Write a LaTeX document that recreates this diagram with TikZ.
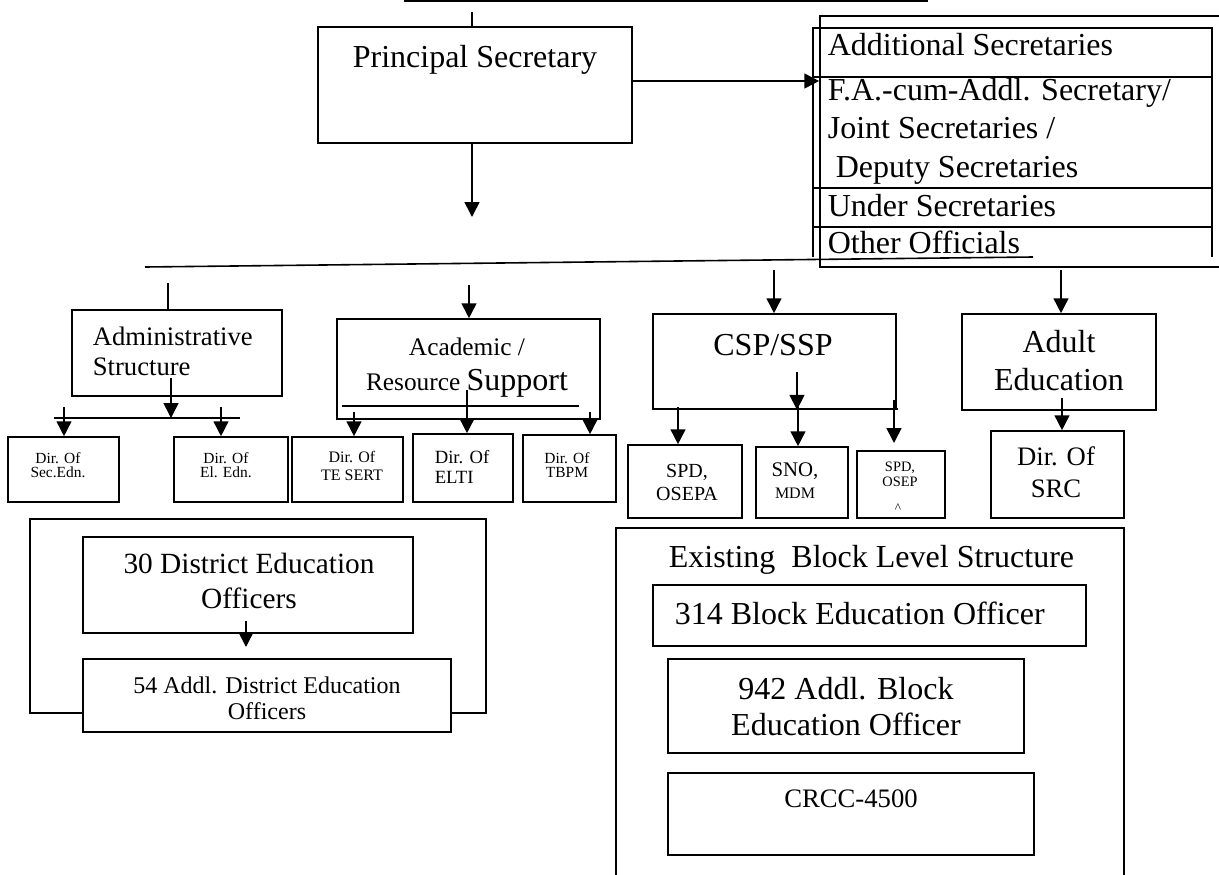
\documentclass[tikz,border=0pt]{standalone}
\usepackage{fontspec}
\setmainfont{Liberation Serif}
\usetikzlibrary{arrows.meta, fit, positioning}
\newcommand{\sz}[2]{\fontsize{#1}{#2}\selectfont}

\begin{document}
\begin{tikzpicture}[x=0.375pt, y=-0.375pt, line width=0.6pt,
    >={Triangle[length=5.6pt, width=5.6pt]},
    box/.style={draw, inner sep=0pt, fill=white},
    txt/.style={inner sep=0pt, anchor=base, align=center},
    ltxt/.style={inner sep=0pt, anchor=base west, align=left}]
    \useasboundingbox (0,0) rectangle (1219,875);

    % 1. Principal Secretary
    \draw[line width=1.1pt] (404,1) -- (928,1);
    \node[box, fit={(318,27) (632,143)}] (ps) {};
    \node[txt, font=\sz{12}{14}] (pstxt) at (475,67) {Principal Secretary};
    \coordinate (pstop) at (472,12);
    \draw (pstop) -- (pstop |- ps.north);
    \coordinate (psdown) at (472,217);
    \draw[->] (psdown |- ps.south) -- (psdown);

    % 2. Secretariat table
    \node[draw, inner sep=0pt, fit={(820,16) (1240,267)}] (offc) {};
    \draw (813,257) -- (813,28) -- (1212,28) -- (1212,257);
    \foreach \y in {77,188,227}
        \draw (813,\y) -- (1212,\y);
    \node[ltxt, font=\sz{12}{14}] (addl) at (827,55) {Additional Secretaries};
    \node[ltxt, font=\sz{12}{14.4}] (jnt) at (827,177)
        {F.A.-cum-Addl. Secretary/\\Joint Secretaries /\\\ Deputy Secretaries};
    \node[ltxt, font=\sz{12}{14}] (usec) at (827,216) {Under Secretaries};
    \node[ltxt, font=\sz{12}{14}] (oth) at (827,253) {Other Officials};
    \coordinate (psr) at (632,81);
    \draw[->] (psr) -- (psr -| offc.west);

    % 3. Main branch line
    \coordinate (bl) at (145,267);
    \coordinate (br) at (1033,257);
    \draw (bl) -- (br);

    % 4. Second level
    \node[box, fit={(72,310) (282,396)}] (adm) {};
    \node[ltxt, font=\sz{10}{11.25}] (admtxt) at (92,375) {Administrative\\Structure};
    \node[box, fit={(337,319) (600,419)}] (acad) {};
    \node[txt, font=\sz{9.5}{13.1}] (acadtxt) at (467,390)
        {Academic /\\Resource {\sz{12}{13.1}Support}};
    \node[box, fit={(653,314) (896,409)}] (csp) {};
    \node[txt, font=\sz{12}{14}] (csptxt) at (773,355) {CSP/SSP};
    \node[box, fit={(962,314) (1156,410)}] (adult) {};
    \node[txt, font=\sz{12}{13.9}] (adulttxt) at (1059,390) {Adult\\Education};

    \coordinate (a1) at (168,283);
    \coordinate (a2) at (469,285);
    \coordinate (a3) at (774,270);
    \coordinate (a4) at (1061,270);
    \draw (a1) -- (a1 |- adm.north);
    \draw[->] (a2) -- (a2 |- acad.north);
    \draw[->] (a3) -- (a3 |- csp.north);
    \draw[->] (a4) -- (a4 |- adult.north);

    % 5. Directorates
    \node[box, fit={(8,437) (119,502)}] (sec) {};
    \node[txt, font=\sz{5.8}{5.25}] at (58,477) {Dir. Of\\Sec.Edn.};
    \node[box, fit={(174,437) (288,502)}] (el) {};
    \node[txt, font=\sz{5.8}{5.25}] at (226,477) {Dir. Of\\El. Edn.};
    \node[box, fit={(292,437) (403,502)}] (tes) {};
    \node[txt, font=\sz{6}{6.4}] at (352,480) {Dir. Of\\TE SERT};
    \node[box, fit={(413,434) (513,502)}] (elti) {};
    \node[ltxt, font=\sz{7}{7.5}] at (434,483) {Dir. Of\\ELTI};
    \node[box, fit={(523,435) (616,502)}] (tbpm) {};
    \node[txt, font=\sz{5.8}{5.25}] at (567,477) {Dir. Of\\TBPM};

    \coordinate (admbar) at (171,418);
    \draw[->] (171,378) -- (admbar);
    \draw (54,418) -- (240,418);
    \coordinate (s1) at (64,407);
    \coordinate (s2) at (221,407);
    \draw[->] (s1) -- (s1 |- sec.north);
    \draw[->] (s2) -- (s2 |- el.north);

    \draw (342,406) -- (579,406);
    \coordinate (t1) at (354,412);
    \coordinate (t2) at (467,390);
    \coordinate (t3) at (590,412);
    \draw[->] (t1) -- (t1 |- tes.north);
    \draw[->] (t2) -- (t2 |- elti.north);
    \draw[->] (t3) -- (t3 |- tbpm.north);

    % 6. CSP/SSP units
    \node[box, fit={(628,445) (742,518)}] (spda) {};
    \node[txt, font=\sz{7.5}{8.6}] at (687,500) {SPD,\\OSEPA};
    \node[box, fit={(756,447) (848,518)}] (sno) {};
    \node[txt, font=\sz{7.8}{7.9}] at (795,498) {SNO,\\{\sz{6}{7.9}MDM}};
    \node[box, fit={(857,451) (945,518)}] (spdb) {};
    \node[txt, font=\sz{5.4}{3.75}] at (900,486) {SPD,\\OSEP};
    \node[txt, font=\sz{5}{6}] (caret) at (898,512) {\^{}};

    \coordinate (c0) at (797,372);
    \draw[->] (c0) -- (c0 |- csp.south);
    \draw (677,409) -- (898,409);
    \coordinate (c1) at (678,407);
    \coordinate (c2) at (798,407);
    \coordinate (c3) at (894,400);
    \coordinate (c3e) at (894,443);
    \draw[->] (c1) -- (c1 |- spda.north);
    \draw[->] (c2) -- (c2 |- sno.north);
    \draw[->] (c3) -- (c3e);

    \node[box, fit={(991,431) (1124,518)}] (src) {};
    \node[txt, font=\sz{10}{12}] at (1056,497) {Dir. Of\\SRC};
    \coordinate (d0) at (1062,398);
    \draw[->] (d0) -- (d0 |- src.north);

    % 7. District level
    \node[draw, inner sep=0pt, fit={(30,519) (486,713)}] (dist) {};
    \node[box, fit={(83,537) (413,633)}] (deo) {};
    \node[txt, font=\sz{11}{13.1}] at (249,608) {30 District Education\\Officers};
    \node[box, fit={(83,659) (451,732)}] (adeo) {};
    \node[txt, font=\sz{9}{9.75}] at (267,719) {54 Addl. District Education\\Officers};
    \coordinate (e0) at (246,621);
    \coordinate (e1) at (246,647);
    \draw[->] (e0) -- (e1);

    % 8. Block level
    \node[draw, inner sep=0pt, fit={(616,528) (1124,890)}] (blk) {};
    \node[ltxt, font=\sz{12}{14}] at (668,567) {Existing\ \ Block Level Structure};
    \node[box, fit={(653,585) (1086,646)}] (beo) {};
    \node[ltxt, font=\sz{12}{14}] at (674,624) {314 Block Education Officer};
    \node[box, fit={(668,659) (1024,753)}] (abeo) {};
    \node[txt, font=\sz{12}{13.5}] at (846,735) {942 Addl. Block\\Education Officer};
    \node[box, fit={(668,773) (1034,855)}] (crcc) {};
    \node[txt, font=\sz{10}{12}] at (851,807) {CRCC-4500};
\end{tikzpicture}
\end{document}
